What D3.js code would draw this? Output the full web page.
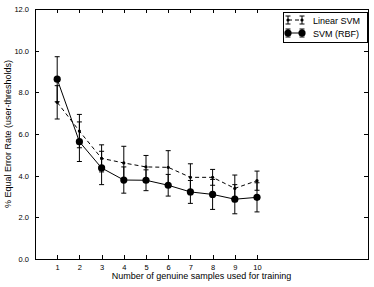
<!DOCTYPE html>
<meta charset="utf-8">
<style>
    body { margin: 0; background: #fff; }
    text { font-family: "Liberation Sans", Arial, sans-serif; fill: #000; }
    .axis path, .axis line { stroke: #000; shape-rendering: crispEdges; }
</style>
<body>
<svg width="374" height="287"></svg>
<script src="https://d3js.org/d3.v7.min.js"></script>
<script>
    // data
    var samples = [1, 2, 3, 4, 5, 6, 7, 8, 9, 10];
    var linearMean = [7.52, 6.14, 4.83, 4.61, 4.42, 4.40, 3.92, 3.92, 3.39, 3.76];
    var linearErr = [0.80, 0.80, 0.65, 0.80, 0.55, 0.80, 0.65, 0.38, 0.64, 0.46];
    var rbfMean = [8.63, 5.63, 4.37, 3.79, 3.78, 3.54, 3.22, 3.10, 2.87, 2.96];
    var rbfErr = [1.08, 0.95, 0.80, 0.63, 0.50, 0.52, 0.55, 0.72, 0.70, 0.70];
    var yTicks = [0, 2, 4, 6, 8, 10, 12];

    var svg = d3.select("svg"),
        margin = { top: 9, right: 6, bottom: 28, left: 35 },
        width = +svg.attr("width") - margin.left - margin.right,
        height = +svg.attr("height") - margin.top - margin.bottom;

    var x = d3.scaleLinear().domain([0, 15]).range([0, width]),
        y = d3.scaleLinear().domain([0, 12]).range([height, 0]);

    var g = svg.append("g")
        .attr("transform", "translate(" + margin.left + "," + margin.top + ")");

    // axes, ticks inside on all four sides
    g.append("g").attr("class", "axis")
        .attr("transform", "translate(0," + height + ")")
        .call(d3.axisBottom(x).tickValues(samples).tickSizeInner(-4).tickSizeOuter(0).tickPadding(6).tickFormat(d3.format("d")))
        .call(function (a) { a.select(".domain").remove(); a.selectAll("text").attr("font-size", 7.5); });
    g.append("g").attr("class", "axis")
        .call(d3.axisTop(x).tickValues(samples).tickSizeInner(-4).tickSizeOuter(0).tickFormat(""))
        .call(function (a) { a.select(".domain").remove(); });
    g.append("g").attr("class", "axis")
        .call(d3.axisLeft(y).tickValues(yTicks).tickSizeInner(-4).tickSizeOuter(0).tickPadding(6).tickFormat(d3.format(".1f")))
        .call(function (a) { a.select(".domain").remove(); a.selectAll("text").attr("font-size", 7.5); });
    g.append("g").attr("class", "axis")
        .attr("transform", "translate(" + width + ",0)")
        .call(d3.axisRight(y).tickValues(yTicks).tickSizeInner(-4).tickSizeOuter(0).tickFormat(""))
        .call(function (a) { a.select(".domain").remove(); });

    g.append("rect")
        .attr("width", width).attr("height", height)
        .attr("fill", "none").attr("stroke", "#000").attr("stroke-width", 1)
        .attr("shape-rendering", "crispEdges");

    function rows(means, errs) {
        return samples.map(function (s, i) { return { x: s, y: means[i], e: errs[i] }; });
    }

    var series = [
        { name: "Linear SVM", data: rows(linearMean, linearErr), dash: "4,3", r: 1.6 },
        { name: "SVM (RBF)", data: rows(rbfMean, rbfErr), dash: null, r: 3.6 }
    ];

    var line = d3.line().x(function (d) { return x(d.x); }).y(function (d) { return y(d.y); });

    series.forEach(function (s) {
        var sg = g.append("g");
        var bars = sg.selectAll(".err").data(s.data).enter().append("g");
        bars.append("line")
            .attr("x1", function (d) { return x(d.x); }).attr("x2", function (d) { return x(d.x); })
            .attr("y1", function (d) { return y(d.y - d.e); }).attr("y2", function (d) { return y(d.y + d.e); })
            .attr("stroke", "#000");
        [-1, 1].forEach(function (k) {
            bars.append("line")
                .attr("x1", function (d) { return x(d.x) - 2.5; }).attr("x2", function (d) { return x(d.x) + 2.5; })
                .attr("y1", function (d) { return y(d.y + k * d.e); }).attr("y2", function (d) { return y(d.y + k * d.e); })
                .attr("stroke", "#000");
        });
        sg.append("path").datum(s.data)
            .attr("d", line).attr("fill", "none").attr("stroke", "#000").attr("stroke-width", 1)
            .attr("stroke-dasharray", s.dash);
        sg.selectAll("circle").data(s.data).enter().append("circle")
            .attr("cx", function (d) { return x(d.x); }).attr("cy", function (d) { return y(d.y); })
            .attr("r", s.r).attr("fill", "#000");
    });

    // legend
    var lg = svg.append("g").attr("transform", "translate(283,12)");
    lg.append("rect").attr("width", 84).attr("height", 30)
        .attr("fill", "#fff").attr("stroke", "#000").attr("shape-rendering", "crispEdges");
    series.forEach(function (s, i) {
        var row = lg.append("g").attr("transform", "translate(0," + (8 + i * 13) + ")");
        row.append("line").attr("x1", 5).attr("x2", 19).attr("y1", 0).attr("y2", 0)
            .attr("stroke", "#000").attr("stroke-dasharray", s.dash);
        [5, 19].forEach(function (cx) {
            row.append("line").attr("x1", cx).attr("x2", cx).attr("y1", -4).attr("y2", 4).attr("stroke", "#000");
            row.append("line").attr("x1", cx - 2.5).attr("x2", cx + 2.5).attr("y1", -4).attr("y2", -4).attr("stroke", "#000");
            row.append("line").attr("x1", cx - 2.5).attr("x2", cx + 2.5).attr("y1", 4).attr("y2", 4).attr("stroke", "#000");
            row.append("circle").attr("cx", cx).attr("cy", 0).attr("r", s.r).attr("fill", "#000");
        });
        row.append("text").attr("x", 30).attr("y", 3.5).attr("font-size", 9).text(s.name);
    });

    // axis labels
    svg.append("text")
        .attr("x", margin.left + width / 2).attr("y", 279)
        .attr("text-anchor", "middle").attr("font-size", 9)
        .text("Number of genuine samples used for training");
    svg.append("text")
        .attr("transform", "translate(11," + (margin.top + height / 2) + ") rotate(-90)")
        .attr("text-anchor", "middle").attr("font-size", 9)
        .text("% Equal Error Rate (user-thresholds)");
</script>
</body>
